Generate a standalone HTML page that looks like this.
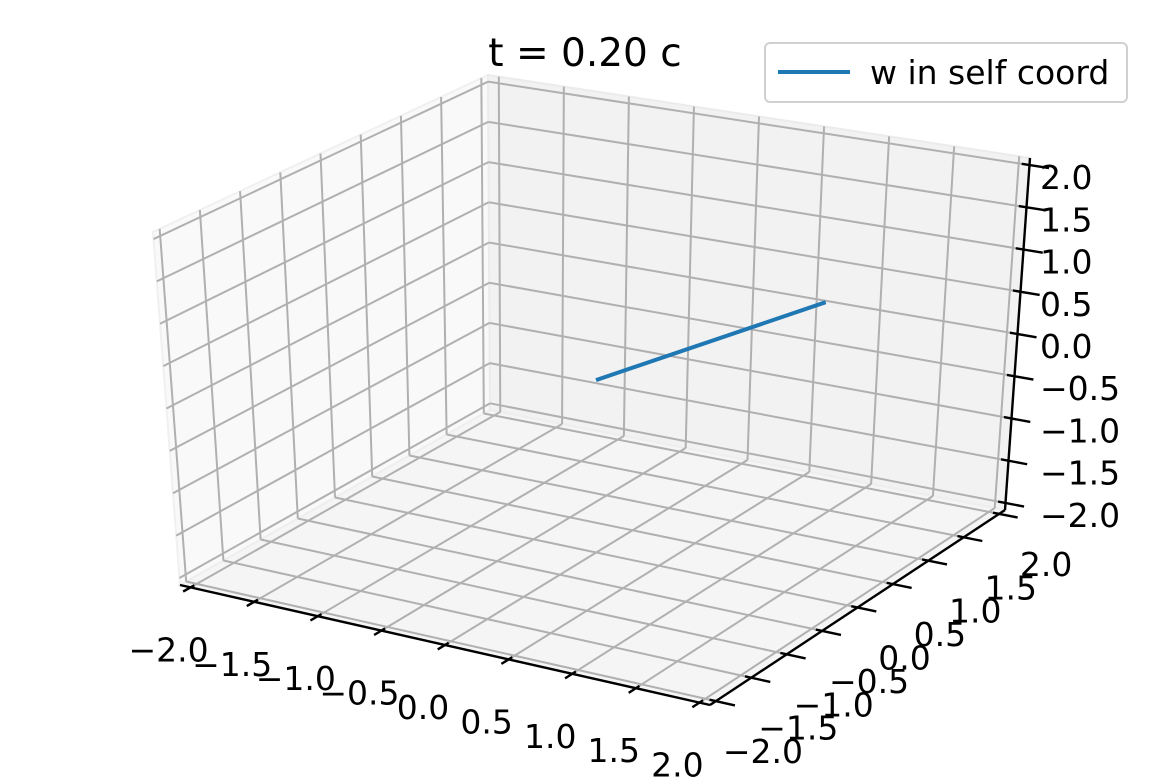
<!DOCTYPE html>
<html><head><meta charset="utf-8"><style>
html,body{margin:0;padding:0;background:#fff;}
svg{display:block;font-family:"DejaVu Sans","Liberation Sans",sans-serif;}
</style></head><body>
<svg id="chart" width="1170" height="779" viewBox="0 0 1170 779">
<g id="panes"></g>
<g id="grid"></g>
<g id="axes"></g>
<g id="series"></g>
<text x="585" y="66" font-size="39" text-anchor="middle" fill="#000">t = 0.20 c</text>
<g>
<rect x="765" y="43" width="362" height="59" rx="5" fill="#fff" fill-opacity="0.8" stroke="#d0d0d0" stroke-width="2"/>
<line x1="778" y1="72" x2="850" y2="72" stroke="#1f77b4" stroke-width="4"/>
<text x="870" y="84" font-size="33" fill="#000">w in self coord</text>
</g>
</svg>
<script>
const xTicks = [-2, -1.5, -1, -0.5, 0, 0.5, 1, 1.5, 2];
const yTicks = [-2, -1.5, -1, -0.5, 0, 0.5, 1, 1.5, 2];
const zTicks = [-2, -1.5, -1, -0.5, 0, 0.5, 1, 1.5, 2];
const xTickLabels = ["\u22122.0","\u22121.5","\u22121.0","\u22120.5","0.0","0.5","1.0","1.5","2.0"];
const yTickLabels = ["\u22122.0","\u22121.5","\u22121.0","\u22120.5","0.0","0.5","1.0","1.5","2.0"];
const zTickLabels = ["\u22122.0","\u22121.5","\u22121.0","\u22120.5","0.0","0.5","1.0","1.5","2.0"];
const seriesX = [0, 1.15];
const seriesY = [0, 1.07];
const seriesZ = [-0.07, 0.63];

const L = 2.083;
const C = {
  "000":[180,585],"100":[710,705],"110":[1005,510],"010":[490,410],
  "001":[153,232],"101":[712,318],"111":[1030,158],"011":[488,75]
};
function P(x,y,z){
  const u=(x+L)/(2*L), v=(y+L)/(2*L), w=(z+L)/(2*L);
  let px=0,py=0;
  for(const a of [0,1])for(const b of [0,1])for(const c of [0,1]){
    const wt=(a?u:1-u)*(b?v:1-v)*(c?w:1-w);
    const p=C[""+a+b+c];px+=wt*p[0];py+=wt*p[1];
  }
  return [px,py];
}
const NS="http://www.w3.org/2000/svg";
function el(tag,attrs,parent){const e=document.createElementNS(NS,tag);for(const k in attrs)e.setAttribute(k,attrs[k]);parent.appendChild(e);return e;}
function poly(pts){return pts.map(p=>p[0].toFixed(1)+","+p[1].toFixed(1)).join(" ");}

const panes=document.getElementById("panes");
let pg;
pg=el("polygon",{points:poly([P(-L,-L,-L),P(-L,L,-L),P(-L,L,L),P(-L,-L,L)]),fill:"#f9f9f9",stroke:"#f0f0f0","stroke-width":2},panes);


pg=el("polygon",{points:poly([P(-L,L,-L),P(L,L,-L),P(L,L,L),P(-L,L,L)]),fill:"#f2f2f2",stroke:"#ebebeb","stroke-width":2},panes);


pg=el("polygon",{points:poly([P(-L,-L,-L),P(L,-L,-L),P(L,L,-L),P(-L,L,-L)]),fill:"#f5f5f5",stroke:"#eeeeee","stroke-width":2},panes);



const grid=document.getElementById("grid");
function gl(a,b,name){const [x1,y1]=a,[x2,y2]=b;const l=el("line",{x1,y1,x2,y2,stroke:"#b0b0b0","stroke-width":2},grid);

}
yTicks.forEach(t=>gl(P(-L,t,-L),P(-L,t,L),"grid-left-y"));
zTicks.forEach(t=>gl(P(-L,-L,t),P(-L,L,t),"grid-left-z"));
xTicks.forEach(t=>gl(P(t,L,-L),P(t,L,L),"grid-back-x"));
zTicks.forEach(t=>gl(P(-L,L,t),P(L,L,t),"grid-back-z"));
xTicks.forEach(t=>gl(P(t,-L,-L),P(t,L,-L),"grid-floor-x"));
yTicks.forEach(t=>gl(P(-L,t,-L),P(L,t,-L),"grid-floor-y"));

const axes=document.getElementById("axes");
function al(a,b,name){const l=el("line",{x1:a[0],y1:a[1],x2:b[0],y2:b[1],stroke:"#000","stroke-width":2.4},axes);

}
al(P(-L,-L,-L),P(L,-L,-L),"x-axis-line");
al(P(L,-L,-L),P(L,L,-L),"y-axis-line");
al(P(L,L,-L),P(L,L,L),"z-axis-line");
function lab(x,y,txt,anchor,name){const t=el("text",{x:x.toFixed(1),y:y.toFixed(1),"font-size":33,"text-anchor":anchor,fill:"#000"},axes);t.textContent=txt;

}
xTicks.forEach((t,i)=>{
  al(P(t,-L+0.05,-L),P(t,-L-0.1,-L),"x-tick");
  const p=P(t,-L,-L);
  lab(p[0]-22,p[1]+74,xTickLabels[i],"middle","x-tick-label");
});
yTicks.forEach((t,i)=>{
  al(P(L-0.05,t,-L),P(L+0.15,t,-L),"y-tick");
  const p=P(L,t,-L);
  lab(p[0]+47,p[1]+62,yTickLabels[i],"middle","y-tick-label");
});
zTicks.forEach((t,i)=>{
  al(P(L-0.06,L,t),P(L+0.15,L,t),"z-tick");
  const p=P(L,L,t);
  lab(1040,p[1]+24,zTickLabels[i],"start","z-tick-label");
});

const series=document.getElementById("series");
const pts=seriesX.map((x,i)=>P(x,seriesY[i],seriesZ[i]));
const pl=el("polyline",{points:poly(pts),fill:"none",stroke:"#1f77b4","stroke-width":4},series);


</script>
</body></html>
